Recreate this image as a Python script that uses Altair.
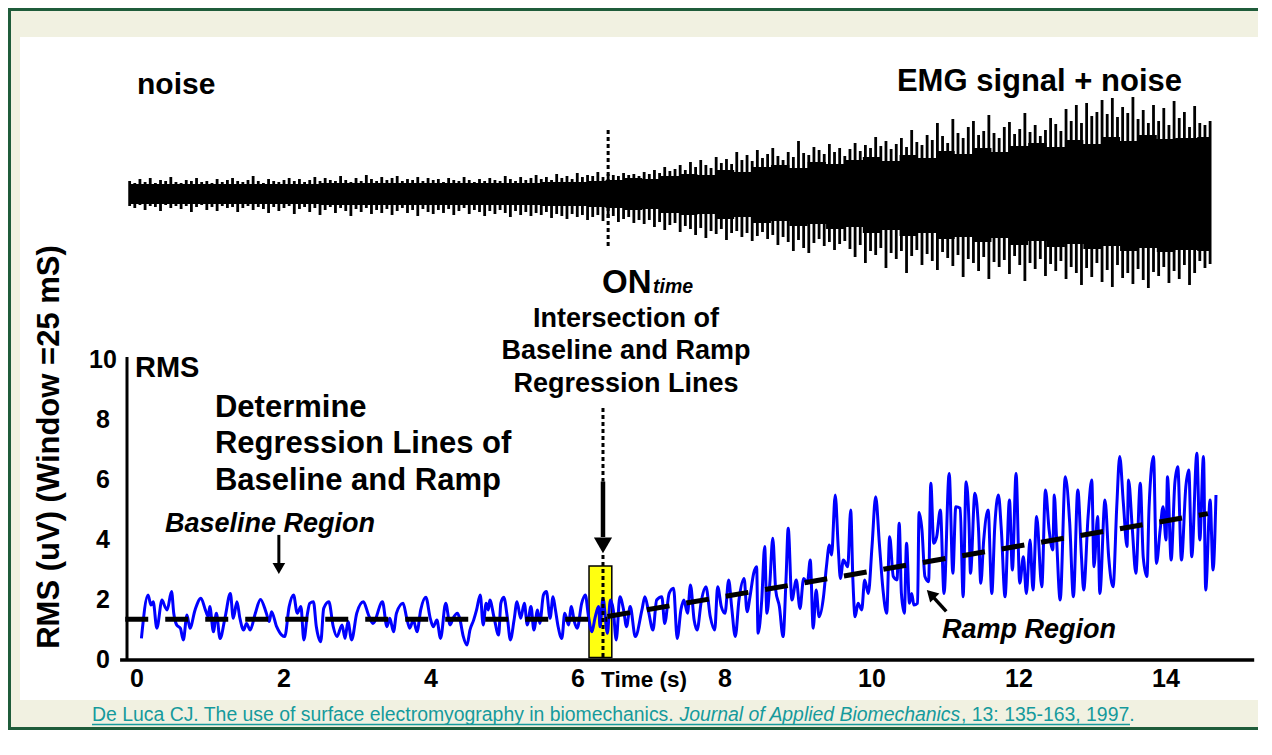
import altair as alt
import pandas as pd

# ---------------- data ----------------
# RMS trace (time in s, RMS in uV)
rms_t = [0.06,0.15,0.19,0.22,0.27,0.34,0.38,0.41,0.47,0.50,0.54,0.59,0.63,0.68,0.72,0.79,0.87,0.93,0.97,0.99,
         1.04,1.08,1.13,1.20,1.27,1.31,1.36,1.40,1.45,1.49,1.54,1.61,1.68,1.76,1.80,1.83,1.90,1.97,2.01,2.07,
         2.13,2.18,2.23,2.27,2.32,2.35,2.40,2.44,2.50,2.54,2.61,2.67,2.72,2.79,2.83,2.87,2.92,2.99,3.08,3.15,
         3.21,3.34,3.40,3.44,3.49,3.53,3.62,3.67,3.71,3.76,3.81,3.86,3.93,3.99,4.03,4.08,4.13,4.20,4.26,4.30,
         4.36,4.39,4.44,4.49,4.53,4.58,4.62,4.67,4.71,4.75,4.78,4.80,4.86,4.92,4.95,4.99,5.04,5.08,5.13,5.17,
         5.22,5.27,5.31,5.36,5.40,5.45,5.48,5.53,5.57,5.62,5.66,5.69,5.73,5.78,5.82,5.87,5.91,5.95,5.99,6.05,
         6.10,6.14,6.19,6.23,6.28,6.30,6.34,6.40,6.44,
         6.48,6.52,6.57,6.62,6.66,6.71,6.78,6.87,6.91,6.96,7.02,7.07,7.14,7.18,7.24,7.30,7.35,7.40,7.44,7.49,
         7.53,7.58,7.62,7.68,7.74,7.80,7.86,7.90,7.95,8.00,8.05,8.09,8.14,8.19,8.26,8.30,8.34,8.39,8.43,8.45,
         8.50,8.54,8.57,8.61,8.65,8.69,8.74,8.79,8.83,8.86,8.91,8.97,9.02,9.07,9.12,9.16,9.20,9.24,9.28,9.34,
         9.38,9.42,9.45,9.50,9.54,9.57,9.61,9.67,9.71,9.74,9.77,9.81,9.86,9.90,9.95,10.00,10.05,10.10,10.15,10.20,
         10.24,10.29,10.34,10.37,10.40,10.44,10.47,10.51,10.54,10.57,10.62,10.64,
         10.68,10.72,10.77,10.80,10.84,10.88,10.93,10.98,11.05,11.10,11.14,11.20,11.24,11.28,11.32,11.34,11.40,11.45,11.48,11.52,
         11.58,11.63,11.67,11.72,11.76,11.81,11.87,11.91,11.96,12.01,12.06,12.10,12.15,12.19,12.24,12.31,12.36,12.41,12.46,12.48,
         12.51,12.56,12.63,12.69,12.74,12.80,12.85,12.88,12.94,12.99,13.02,13.07,13.10,13.17,13.22,13.28,13.33,13.37,13.42,13.47,
         13.49,13.54,13.59,13.65,13.69,13.74,13.77,13.83,13.87,13.92,13.96,14.00,14.02,14.07,14.12,14.16,14.21,14.27,14.31,14.35,
         14.42,14.46,14.51,14.54,14.60,14.64,14.68]
rms_v = [0.72,2.17,1.83,1.94,1.06,2.00,1.78,1.67,2.28,1.56,1.17,1.06,0.67,1.50,1.06,1.67,2.06,1.67,1.44,1.78,
         0.94,1.56,0.72,1.44,2.22,1.39,1.94,1.39,1.00,1.22,1.00,1.56,2.02,1.56,1.28,1.61,1.11,0.83,0.78,1.78,
         2.17,1.56,1.78,0.67,1.56,1.89,1.94,1.11,0.61,1.72,1.94,1.11,0.78,1.17,0.72,1.28,0.67,1.56,1.94,1.50,
         1.22,1.94,1.11,1.39,0.94,1.56,1.89,1.39,1.06,1.33,0.94,1.67,2.09,1.39,1.11,1.33,0.72,1.89,1.17,1.39,
         1.56,1.39,0.78,0.50,1.00,1.33,1.67,2.17,1.17,1.89,1.67,2.00,1.39,0.83,1.89,2.09,1.39,0.67,1.33,1.94,
         1.39,1.89,1.17,1.78,1.00,1.67,1.22,2.17,2.28,1.39,2.11,1.72,1.11,0.72,1.56,1.17,1.78,1.28,1.06,1.89,
         2.17,1.50,0.94,1.39,1.78,1.11,2.06,0.89,2.00,
         1.67,0.67,2.11,1.67,1.11,1.78,0.78,1.67,2.11,1.61,1.00,2.00,2.11,1.22,2.22,2.39,0.72,1.67,2.00,1.56,
         2.50,1.33,1.00,2.00,2.44,1.44,1.00,2.44,1.78,1.56,2.67,1.78,0.78,2.00,2.72,1.61,2.11,2.89,3.11,0.89,
         2.00,3.78,1.56,2.56,4.06,2.33,1.78,0.78,2.67,4.39,2.00,2.67,1.72,2.72,2.56,3.33,1.06,2.33,1.44,2.11,
         3.11,3.83,3.50,5.50,3.78,2.72,3.33,3.11,5.00,2.67,1.44,1.89,1.67,2.67,2.22,3.78,5.44,3.89,2.33,1.56,
         4.11,2.78,2.67,4.56,2.22,1.56,3.89,1.89,2.22,1.83,1.89,4.92,
         4.33,2.78,2.61,5.89,3.89,4.11,5.00,2.22,6.22,2.89,5.11,5.06,2.11,5.94,4.56,2.89,5.56,4.33,2.56,4.00,
         5.00,2.22,4.44,5.50,4.33,2.11,5.33,3.00,6.22,2.56,3.44,2.22,4.00,2.33,4.78,2.44,5.67,4.33,3.67,5.50,
         4.11,2.00,6.11,4.56,2.11,5.67,3.44,2.33,4.78,6.00,3.11,4.78,2.22,5.33,3.44,2.44,5.11,6.78,5.22,3.78,
         6.00,4.44,2.89,5.89,3.44,2.78,5.11,6.78,3.22,4.33,5.11,4.00,6.11,3.33,5.89,6.44,3.33,5.78,6.33,3.44,
         6.89,4.00,6.78,2.33,5.33,3.00,5.50]

# raw EMG trace (top panel): sample grid and read peak / trough amplitudes
emg_t0, emg_dt = -0.10, 0.07
emg_up = [0.12,0.10,0.14,0.11,0.15,0.10,0.13,0.12,0.16,0.11,
          0.10,0.13,0.12,0.15,0.11,0.12,0.10,0.14,0.11,0.13,
          0.15,0.12,0.11,0.13,0.17,0.12,0.10,0.14,0.12,0.11,
          0.13,0.15,0.12,0.14,0.11,0.13,0.16,0.12,0.15,0.13,
          0.12,0.17,0.13,0.11,0.15,0.12,0.18,0.14,0.12,0.16,
          0.13,0.15,0.17,0.12,0.14,0.13,0.16,0.12,0.15,0.13,
          0.14,0.11,0.15,0.13,0.12,0.16,0.13,0.11,0.14,0.12,
          0.15,0.13,0.12,0.17,0.14,0.12,0.16,0.13,0.15,0.18,
          0.14,0.16,0.13,0.19,0.15,0.17,0.14,0.20,0.16,0.18,
          0.17,0.21,0.16,0.19,0.18,0.17,0.20,0.18,0.19,0.17,
          0.21,0.19,0.23,0.20,0.26,0.22,0.24,0.28,0.23,0.31,
          0.26,0.33,0.28,0.25,0.36,0.30,0.34,0.29,0.41,0.33,
          0.38,0.32,0.43,0.35,0.39,0.45,0.37,0.33,0.41,0.36,
          0.52,0.40,0.38,0.46,0.43,0.39,0.49,0.41,0.45,0.37,
          0.44,0.50,0.42,0.48,0.45,0.56,0.47,0.52,0.44,0.49,
          0.55,0.46,0.63,0.51,0.48,0.58,0.53,0.70,0.57,0.50,
          0.74,0.60,0.55,0.66,0.72,0.58,0.62,0.78,0.60,0.55,
          0.66,0.71,0.59,0.64,0.80,0.61,0.68,0.57,0.63,0.75,
          0.69,0.62,0.84,0.72,0.88,0.70,0.90,0.77,0.81,0.93,
          0.79,0.95,0.76,0.86,0.80,0.96,0.74,0.83,0.70,0.88,
          0.72,0.85,0.68,0.92,0.75,0.81,0.66,0.87,0.70,0.68,0.72]
emg_lo = [-0.13,-0.15,-0.12,-0.17,-0.13,-0.14,-0.18,-0.12,-0.15,-0.13,
          -0.16,-0.13,-0.19,-0.14,-0.12,-0.17,-0.14,-0.18,-0.13,-0.15,
          -0.14,-0.19,-0.15,-0.13,-0.17,-0.14,-0.16,-0.20,-0.14,-0.18,
          -0.15,-0.13,-0.21,-0.16,-0.14,-0.19,-0.15,-0.22,-0.17,-0.14,
          -0.20,-0.15,-0.18,-0.23,-0.16,-0.19,-0.15,-0.21,-0.17,-0.20,
          -0.16,-0.22,-0.18,-0.15,-0.20,-0.17,-0.23,-0.16,-0.19,-0.21,
          -0.17,-0.20,-0.16,-0.22,-0.18,-0.15,-0.21,-0.17,-0.19,-0.23,
          -0.18,-0.21,-0.17,-0.20,-0.24,-0.18,-0.22,-0.19,-0.23,-0.20,
          -0.22,-0.19,-0.25,-0.21,-0.23,-0.26,-0.21,-0.24,-0.22,-0.27,
          -0.24,-0.22,-0.28,-0.25,-0.23,-0.29,-0.26,-0.24,-0.30,-0.27,
          -0.31,-0.27,-0.34,-0.29,-0.37,-0.32,-0.30,-0.39,-0.33,-0.36,
          -0.42,-0.35,-0.45,-0.38,-0.41,-0.36,-0.47,-0.40,-0.38,-0.44,
          -0.40,-0.48,-0.43,-0.39,-0.46,-0.42,-0.52,-0.44,-0.49,-0.58,
          -0.47,-0.55,-0.60,-0.50,-0.46,-0.53,-0.49,-0.57,-0.51,-0.48,
          -0.56,-0.64,-0.52,-0.70,-0.58,-0.62,-0.55,-0.75,-0.60,-0.66,
          -0.58,-0.80,-0.63,-0.57,-0.72,-0.61,-0.68,-0.77,-0.59,-0.65,
          -0.73,-0.62,-0.84,-0.66,-0.70,-0.78,-0.64,-0.86,-0.69,-0.74,
          -0.67,-0.81,-0.63,-0.72,-0.88,-0.70,-0.76,-0.66,-0.83,-0.71,
          -0.78,-0.68,-0.86,-0.74,-0.80,-0.92,-0.75,-0.84,-0.70,-0.89,
          -0.77,-0.94,-0.72,-0.85,-0.80,-0.91,-0.76,-0.87,-0.95,-0.79,
          -0.83,-0.74,-0.90,-0.78,-0.86,-0.72,-0.92,-0.80,-0.68,-0.75,-0.71]
# dense (solid) core of the EMG trace
core_t  = [-0.1, 1, 2, 3, 4, 5, 6, 6.25, 6.5, 6.75, 7.0, 7.25, 7.5, 7.75, 8.0, 8.25, 8.5, 8.75, 9.0, 9.25,
           9.5, 9.75, 10.0, 10.25, 10.5, 10.75, 11.0, 11.25, 11.5, 11.75, 12.0, 12.25, 12.5, 12.75, 13.0, 13.25,
           13.5, 13.75, 14.0, 14.25, 14.6]
core_up = [0.09, 0.09, 0.09, 0.10, 0.10, 0.10, 0.11, 0.12, 0.13, 0.15, 0.14, 0.17, 0.19, 0.18, 0.23, 0.21,
           0.26, 0.28, 0.25, 0.31, 0.29, 0.33, 0.36, 0.32, 0.38, 0.35, 0.42, 0.39, 0.45, 0.41, 0.47, 0.50,
           0.46, 0.53, 0.49, 0.56, 0.52, 0.58, 0.54, 0.55, 0.56]
core_lo = [-0.11, -0.11, -0.11, -0.12, -0.12, -0.12, -0.13, -0.14, -0.15, -0.17, -0.16, -0.20, -0.22, -0.21,
           -0.26, -0.24, -0.30, -0.28, -0.33, -0.31, -0.36, -0.34, -0.40, -0.37, -0.43, -0.40, -0.46, -0.44,
           -0.49, -0.45, -0.52, -0.48, -0.54, -0.51, -0.56, -0.53, -0.58, -0.55, -0.59, -0.57, -0.58]

# regression lines
base_fit_t = [-0.16, 6.40]
base_fit_v = [1.36, 1.36]
ramp_fit_t = [6.40, 14.57]
ramp_fit_v = [1.45, 4.88]
on_time = 6.34

x_ticks = [0, 2, 4, 6, 8, 10, 12, 14]
y_ticks = [0, 2, 4, 6, 8, 10]

# ---------------- styling ----------------
FONT = "Liberation Sans, Arial, Helvetica, sans-serif"
BLUE = "#0000ff"
GREEN = "#1f5c3a"
TEAL = "#159a9c"
YELLOW = "#ffff10"
BEIGE = "#f1f1e1"
W, H = 1250, 722

xs = alt.Scale(domain=[-1.7551, 15.2517], nice=False, zero=False)
ys = alt.Scale(domain=[-2.3333, 21.7333], nice=False, zero=False)
es = alt.Scale(domain=[-5.37, 1.85], nice=False, zero=False)


def X(f):
    return alt.X(f, type="quantitative", scale=xs, axis=None)


def Y(f):
    return alt.Y(f, type="quantitative", scale=ys, axis=None)


def YE(f):
    return alt.Y(f, type="quantitative", scale=es, axis=None)


one = pd.DataFrame({"k": [0]})

# frame: white panel and the green edges drawn as filled strips (no strokes)
panel = alt.Chart(one).mark_rect(fill="white", strokeWidth=0).encode(
    x=alt.value(12), x2=alt.value(W), y=alt.value(29), y2=alt.value(692))
edge_left = alt.Chart(one).mark_rect(fill=GREEN, strokeWidth=0).encode(
    x=alt.value(0), x2=alt.value(3), y=alt.value(0), y2=alt.value(H))
edge_top = alt.Chart(one).mark_rect(fill=GREEN, strokeWidth=0).encode(
    x=alt.value(0), x2=alt.value(W), y=alt.value(0), y2=alt.value(3))
edge_bottom = alt.Chart(one).mark_rect(fill=GREEN, strokeWidth=0).encode(
    x=alt.value(0), x2=alt.value(W), y=alt.value(H - 3), y2=alt.value(H))

# ---- EMG panel ----
emg_t = [round(emg_t0 + emg_dt * i, 3) for i in range(len(emg_up))]
emg_df = pd.DataFrame({"t": emg_t, "up": emg_up, "lo": emg_lo})
core_df = pd.DataFrame({"t": core_t, "up": core_up, "lo": core_lo})

emg_core = alt.Chart(core_df).mark_area(color="black", opacity=1, interpolate="step").encode(
    x=X("t"), y=YE("up"), y2=alt.Y2("lo"))
emg_spikes = alt.Chart(emg_df).mark_rule(color="black", strokeWidth=2.8).encode(
    x=X("t"), y=YE("up"), y2=alt.Y2("lo"))
emg_on = alt.Chart(pd.DataFrame({"t": [6.41], "a": [0.63], "b": [-0.55]})).mark_rule(
    color="black", strokeWidth=3, strokeDash=[4, 3]).encode(x=X("t"), y=YE("a"), y2=alt.Y2("b"))

# ---- RMS panel ----
rms_df = pd.DataFrame({"t": rms_t, "v": rms_v})

yellow = alt.Chart(pd.DataFrame({"t1": [6.15], "t2": [6.46], "v1": [0.08], "v2": [3.13]})).mark_rect(
    fill=YELLOW, stroke="black", strokeWidth=1.5).encode(
    x=X("t1"), x2=alt.X2("t2"), y=Y("v1"), y2=alt.Y2("v2"))

rms_line = alt.Chart(rms_df).mark_line(color=BLUE, strokeWidth=3, interpolate="monotone").encode(
    x=X("t"), y=Y("v"))

fit_df = pd.DataFrame({"t": base_fit_t + ramp_fit_t, "v": base_fit_v + ramp_fit_v,
                       "seg": ["base", "base", "ramp", "ramp"]})
fits = alt.Chart(fit_df).mark_line(color="black", strokeWidth=5, strokeDash=[23, 17], strokeCap="butt").encode(
    x=X("t"), y=Y("v"), detail="seg:N")

on_dots = alt.Chart(pd.DataFrame({"t": [on_time, on_time], "a": [8.4, 3.5], "b": [5.95, 0.05]})).mark_rule(
    color="black", strokeWidth=3, strokeDash=[4, 3]).encode(x=X("t"), y=Y("a"), y2=alt.Y2("b"))
on_shaft = alt.Chart(pd.DataFrame({"t": [on_time], "a": [5.95], "b": [4.1]})).mark_rule(
    color="black", strokeWidth=4.5).encode(x=X("t"), y=Y("a"), y2=alt.Y2("b"))
on_head = alt.Chart(pd.DataFrame({"t": [on_time], "v": [3.82]})).mark_point(
    shape="triangle-down", filled=True, color="black", opacity=1, size=330, strokeWidth=0).encode(
    x=X("t"), y=Y("v"))

base_shaft = alt.Chart(pd.DataFrame({"t": [1.93], "a": [4.17], "b": [3.2]})).mark_rule(
    color="black", strokeWidth=3).encode(x=X("t"), y=Y("a"), y2=alt.Y2("b"))
base_head = alt.Chart(pd.DataFrame({"t": [1.93], "v": [3.05]})).mark_point(
    shape="triangle-down", filled=True, color="black", opacity=1, size=160, strokeWidth=0).encode(
    x=X("t"), y=Y("v"))

ramp_shaft = alt.Chart(pd.DataFrame({"t": [11.01], "v": [1.62], "t2": [10.84], "v2": [2.08]})).mark_rule(
    color="black", strokeWidth=3.5).encode(x=X("t"), y=Y("v"), x2=alt.X2("t2"), y2=alt.Y2("v2"))
ramp_head = alt.Chart(pd.DataFrame({"t": [10.80], "v": [2.2]})).mark_point(
    shape="triangle-up", angle=315, filled=True, color="black", opacity=1, size=170, strokeWidth=0).encode(
    x=X("t"), y=Y("v"))

# axes lines
y_axis = alt.Chart(pd.DataFrame({"t": [-0.136], "a": [0], "b": [10.1]})).mark_rule(
    color="black", strokeWidth=3).encode(x=X("t"), y=Y("a"), y2=alt.Y2("b"))
x_axis = alt.Chart(pd.DataFrame({"v": [0], "a": [-0.23], "b": [15.2]})).mark_rule(
    color="black", strokeWidth=3.5).encode(y=Y("v"), x=X("a"), x2=alt.X2("b"))

# tick labels
xt = alt.Chart(pd.DataFrame({"t": x_ticks, "v": [-0.9] * len(x_ticks), "lab": [str(v) for v in x_ticks]})).mark_text(
    font=FONT, fontSize=25, fontWeight="bold", align="center", baseline="alphabetic", color="black").encode(
    x=X("t"), y=Y("v"), text="lab:N")
yt = alt.Chart(pd.DataFrame({"t": [-0.463] * len(y_ticks), "v": y_ticks, "lab": [str(v) for v in y_ticks]})).mark_text(
    font=FONT, fontSize=25, fontWeight="bold", align="center", baseline="middle", color="black").encode(
    x=X("t"), y=Y("v"), text="lab:N")


def label(t, v, txt, size, align="left", style="normal", weight="bold", color="black", angle=0, baseline="alphabetic"):
    kw = dict(font=FONT, fontSize=size, fontWeight=weight, fontStyle=style, align=align,
              baseline=baseline, color=color)
    if angle:
        kw["angle"] = angle
    return alt.Chart(pd.DataFrame({"t": [t], "v": [v], "lab": [txt]})).mark_text(**kw).encode(
        x=X("t"), y=Y("v"), text="lab:N")


CIT_V = -2.03
texts = [
    label(0.0, 18.87, "noise", 30),
    label(14.218, 18.97, "EMG signal + noise", 31, align="right"),
    label(6.327, 12.23, "ON", 33),
    label(7.02, 12.23, "time", 19.5, style="italic"),
    label(6.653, 11.1, "Intersection of", 27, align="center"),
    label(6.653, 10.03, "Baseline and Ramp", 27, align="center"),
    label(6.653, 8.93, "Regression Lines", 27, align="center"),
    label(-0.027, 9.43, "RMS", 29),
    label(1.061, 8.1, "Determine", 31),
    label(1.061, 6.9, "Regression Lines of", 31),
    label(1.061, 5.67, "Baseline and Ramp", 31),
    label(1.81, 4.27, "Baseline Region", 27, align="center", style="italic"),
    label(10.952, 0.73, "Ramp Region", 27, style="italic"),
    label(6.898, -0.9, "Time (s)", 22.5, align="center"),
    label(-1.184, 7.1, "RMS (uV) (Window =25 mS)", 31, align="center", angle=270, baseline="middle"),
    label(-0.612, CIT_V, "De Luca CJ. The use of surface electromyography in biomechanics. ", 19.4,
          weight="normal", color=TEAL),
    label(7.382, CIT_V, "Journal of Applied Biomechanics", 19.4, weight="normal", style="italic", color=TEAL),
    label(11.211, CIT_V, ", 13: 135-163, 1997.", 19.4, weight="normal", color=TEAL),
]
underline = alt.Chart(pd.DataFrame({"v": [CIT_V - 0.12], "a": [-0.612], "b": [13.51]})).mark_rule(
    color=TEAL, strokeWidth=1.5).encode(y=Y("v"), x=X("a"), x2=alt.X2("b"))

chart = alt.layer(
    panel, edge_left, edge_top, edge_bottom,
    emg_core, emg_spikes, emg_on,
    yellow, rms_line, fits, on_dots, on_shaft, on_head,
    base_shaft, base_head, ramp_shaft, ramp_head,
    y_axis, x_axis, xt, yt, underline, *texts
).resolve_scale(y="independent").properties(
    width=W, height=H, padding=0, background=BEIGE,
    autosize=alt.AutoSizeParams(type="none")
).configure_view(stroke="transparent", strokeWidth=0)

chart.save("out.html", embed_options={"renderer": "svg", "actions": False})
